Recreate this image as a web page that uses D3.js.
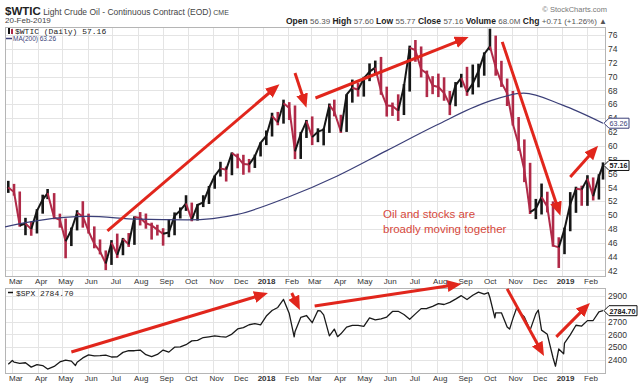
<!DOCTYPE html>
<html>
<head>
<meta charset="utf-8">
<script src="https://cdn.jsdelivr.net/npm/d3@7"></script>
<style>
    body { margin: 0; background: #fff; }
    svg { display: block; font-family: "Liberation Sans", Arial, sans-serif; }
</style>
</head>
<body>
<svg></svg>
<script>

// weekly closes (Friday or last trading day of the week)
const weekDates = [
    "2017-02-24", "2017-03-03", "2017-03-10", "2017-03-17", "2017-03-24", "2017-03-31",
    "2017-04-07", "2017-04-13", "2017-04-21", "2017-04-28",
    "2017-05-05", "2017-05-12", "2017-05-19", "2017-05-26",
    "2017-06-02", "2017-06-09", "2017-06-16", "2017-06-23", "2017-06-30",
    "2017-07-07", "2017-07-14", "2017-07-21", "2017-07-28",
    "2017-08-04", "2017-08-11", "2017-08-18", "2017-08-25",
    "2017-09-01", "2017-09-08", "2017-09-15", "2017-09-22", "2017-09-29",
    "2017-10-06", "2017-10-13", "2017-10-20", "2017-10-27",
    "2017-11-03", "2017-11-10", "2017-11-17", "2017-11-24",
    "2017-12-01", "2017-12-08", "2017-12-15", "2017-12-22", "2017-12-29",
    "2018-01-05", "2018-01-12", "2018-01-19", "2018-01-26",
    "2018-02-02", "2018-02-09", "2018-02-16", "2018-02-23",
    "2018-03-02", "2018-03-09", "2018-03-16", "2018-03-23", "2018-03-29",
    "2018-04-06", "2018-04-13", "2018-04-20", "2018-04-27",
    "2018-05-04", "2018-05-11", "2018-05-18", "2018-05-25",
    "2018-06-01", "2018-06-08", "2018-06-15", "2018-06-22", "2018-06-29",
    "2018-07-06", "2018-07-13", "2018-07-20", "2018-07-27",
    "2018-08-03", "2018-08-10", "2018-08-17", "2018-08-24", "2018-08-31",
    "2018-09-07", "2018-09-14", "2018-09-21", "2018-09-28",
    "2018-10-05", "2018-10-12", "2018-10-19", "2018-10-26",
    "2018-11-02", "2018-11-09", "2018-11-16", "2018-11-23", "2018-11-30",
    "2018-12-07", "2018-12-14", "2018-12-21", "2018-12-28",
    "2019-01-04", "2019-01-11", "2019-01-18", "2019-01-25",
    "2019-02-01", "2019-02-08", "2019-02-15", "2019-02-20"
]

const oilClose = [
    53.99, 53.33, 48.49, 48.78, 47.97, 50.60,
    52.24, 53.18, 49.62, 49.33,
    46.22, 47.84, 50.33, 49.80,
    47.66, 45.83, 44.74, 43.01, 46.04,
    44.23, 46.54, 45.77, 49.71,
    49.58, 48.82, 48.51, 47.87,
    47.29, 47.48, 49.89, 50.66, 51.67,
    49.29, 51.45, 51.84, 53.90,
    55.64, 56.74, 56.55, 58.95,
    58.36, 57.36, 57.30, 58.47, 60.42,
    61.44, 64.30, 63.37, 66.14,
    65.45, 59.20, 61.68, 63.55,
    61.25, 62.04, 62.34, 65.88, 64.94,
    62.06, 67.39, 68.38, 68.10,
    69.72, 70.70, 71.28, 67.88,
    65.81, 65.74, 65.06, 68.58, 74.15,
    73.80, 71.01, 70.46, 68.69,
    68.49, 67.63, 65.91, 68.72, 69.80,
    67.75, 68.99, 70.78, 73.25,
    74.34, 71.34, 69.12, 67.59,
    63.14, 60.19, 56.46, 50.42, 50.93,
    52.61, 51.20, 45.59, 45.33,
    47.96, 51.59, 53.80, 53.69,
    55.26, 52.72, 55.59, 57.16
]

const oilHigh = [
    54.94, 54.50, 53.40, 49.60, 49.05, 50.85,
    52.94, 53.76, 53.17, 50.20,
    49.50, 48.20, 50.70, 52.00,
    50.20, 48.36, 46.48, 44.89, 46.38,
    47.32, 46.70, 47.40, 49.81,
    50.43, 50.22, 48.90, 48.60,
    48.10, 49.42, 50.38, 51.10, 52.86,
    51.80, 51.60, 52.86, 54.20,
    55.70, 57.69, 57.00, 59.05,
    58.87, 58.70, 58.10, 58.72, 60.51,
    62.21, 64.77, 64.89, 66.66,
    66.30, 65.82, 62.00, 63.73,
    64.24, 62.52, 62.50, 66.10, 66.66,
    64.48, 67.45, 69.56, 69.12,
    69.97, 71.89, 72.30, 72.83,
    68.54, 66.24, 67.43, 68.90, 74.46,
    75.27, 74.34, 70.86, 70.05,
    70.42, 69.89, 67.91, 69.20, 70.39,
    71.40, 71.73, 71.85, 73.49,
    76.90, 75.91, 72.27, 69.71,
    67.92, 64.15, 60.92, 57.54, 52.33,
    54.55, 53.37, 51.97, 46.79,
    48.19, 53.31, 54.09, 54.24,
    55.75, 55.43, 55.89, 57.60
]

const oilLow = [
    53.20, 52.80, 48.31, 47.09, 47.01, 47.34,
    50.20, 52.30, 49.40, 48.18,
    43.76, 45.52, 47.78, 48.18,
    47.33, 45.20, 44.32, 42.05, 42.80,
    43.79, 44.20, 45.40, 45.70,
    48.50, 48.03, 46.46, 47.04,
    45.58, 46.80, 47.08, 49.50, 50.60,
    49.10, 49.20, 51.15, 51.60,
    53.80, 55.56, 54.84, 55.75,
    56.75, 55.82, 56.14, 56.80, 58.46,
    60.10, 61.34, 62.96, 63.20,
    63.73, 58.07, 58.10, 61.13,
    60.10, 60.52, 60.06, 61.86, 64.25,
    61.86, 62.00, 66.23, 67.10,
    67.10, 69.33, 70.36, 67.36,
    64.22, 64.31, 63.59, 64.44, 67.83,
    72.13, 69.87, 67.03, 67.45,
    67.03, 66.50, 64.43, 65.71, 68.43,
    67.21, 67.41, 68.44, 70.12,
    73.79, 70.12, 68.50, 65.74,
    62.93, 59.26, 54.75, 50.15, 49.41,
    50.08, 50.38, 45.43, 42.36,
    44.35, 47.66, 50.32, 51.34,
    51.33, 52.11, 52.24, 55.12
]

const spxClose = [
    2367, 2383, 2373, 2378, 2344, 2363,
    2356, 2329, 2349, 2384,
    2399, 2391, 2382, 2416,
    2439, 2432, 2433, 2438, 2423,
    2425, 2459, 2473, 2472,
    2477, 2441, 2426, 2443,
    2477, 2461, 2500, 2502, 2519,
    2549, 2553, 2575, 2581,
    2588, 2582, 2579, 2602,
    2642, 2652, 2675, 2683, 2674,
    2743, 2786, 2810, 2873,
    2762, 2620, 2732, 2747,
    2691, 2786, 2752, 2588, 2641,
    2604, 2656, 2670, 2670,
    2663, 2728, 2713, 2721,
    2735, 2779, 2780, 2755, 2718,
    2760, 2801, 2802, 2819,
    2840, 2833, 2850, 2875, 2902,
    2872, 2905, 2930, 2914,
    2886, 2767, 2768, 2658,
    2723, 2781, 2736, 2633, 2760,
    2633, 2600, 2417, 2486,
    2532, 2596, 2671, 2665,
    2707, 2708, 2776, 2785
]

// mid-week swing closes of the S&P 500
const spxSwingDates = [
    "2017-03-01", "2017-05-17", "2018-02-08", "2018-03-12", "2018-04-02",
    "2018-10-03", "2018-10-11", "2018-10-29", "2018-11-07", "2018-12-03",
    "2018-12-24", "2019-01-03"
]
const spxSwingValues = [
    2396, 2357, 2581, 2783, 2582,
    2925, 2729, 2641, 2814, 2790,
    2351, 2448
]

// 200-day moving average, read at month marks
const maDates = [
    "2017-02-20", "2017-04-01", "2017-06-01", "2017-08-01", "2017-10-01", "2017-12-01",
    "2018-02-01", "2018-04-01", "2018-06-01", "2018-08-01", "2018-10-01", "2018-11-15",
    "2019-01-01", "2019-02-20"
]
const maValues = [
    48.3, 49.2, 49.8, 49.4, 49.3, 50.1,
    52.6, 55.6, 59.3, 63.0, 66.3, 67.6,
    65.9, 63.26
]

const oilTicks = [42, 44, 46, 48, 50, 52, 54, 56, 58, 60, 62, 64, 66, 68, 70, 72, 74, 76]
const spxTicks = [2400, 2500, 2600, 2700, 2800, 2900]

// annotation arrows: [date, value] start and end
const oilArrows = [
    [["2017-06-25", 47.7], ["2018-01-21", 68.9]],
    [["2018-02-09", 70.5], ["2018-02-23", 65.5]],
    [["2018-03-06", 66.9], ["2018-09-09", 75.7]],
    [["2018-10-20", 75.0], ["2018-12-30", 49.9]],
    [["2019-01-11", 55.5], ["2019-02-14", 60.0]]
]
const spxArrows = [
    [["2017-05-12", 2462], ["2018-01-07", 2923]],
    [["2018-02-05", 2923], ["2018-02-15", 2791]],
    [["2018-03-05", 2822], ["2018-08-31", 2994]],
    [["2018-10-26", 2955], ["2018-12-10", 2431]],
    [["2018-12-25", 2580], ["2019-02-04", 2845]]
]

const parseDate = d3.timeParse("%Y-%m-%d")

const left = 5
const right = 605
const oilTop = 27
const oilBottom = 276
const spxTop = 288
const spxBottom = 373

const red = "#e1261c"
const upColor = "#161616"
const downColor = "#b02a48"
const maColor = "#3b3f78"

const svg = d3.select("svg")
    .attr("width", 640)
    .attr("height", 389)

const x = d3.scaleTime()
    .domain([parseDate("2017-02-20"), parseDate("2019-02-20")])
    .range([5, 603])

const yOil = d3.scaleLinear()
    .domain([41.2, 77.15])
    .range([oilBottom, oilTop])

const ySpx = d3.scaleLinear()
    .domain([2298, 2962])
    .range([spxBottom, spxTop])

// last values get a boxed tag on the axis; a label fully under a tag is left out
const oilTags = [63.26, 57.16]
const spxTags = [2784.70]

const defs = svg.append("defs")

defs.append("marker")
    .attr("id", "head")
    .attr("markerUnits", "userSpaceOnUse")
    .attr("viewBox", "0 0 14 12")
    .attr("markerWidth", 14)
    .attr("markerHeight", 12)
    .attr("refX", 5)
    .attr("refY", 6)
    .attr("orient", "auto")
    .append("path")
    .attr("d", "M0,0 L14,6 L0,12 Z")
    .attr("fill", red)

defs.append("clipPath").attr("id", "clipOil")
    .append("rect").attr("x", left).attr("y", oilTop).attr("width", right - left).attr("height", oilBottom - oilTop)
defs.append("clipPath").attr("id", "clipSpx")
    .append("rect").attr("x", left).attr("y", spxTop).attr("width", right - left).attr("height", spxBottom - spxTop)

const months = d3.timeMonth.range(d3.timeMonth.ceil(x.domain()[0]), x.domain()[1])

// panels: grid and frame
const drawPanel = function(top, bottom, yScale, ticks, tags) {
    const g = svg.append("g")

    g.selectAll("line.v")
        .data(months)
        .enter()
        .append("line")
        .attr("x1", d => Math.round(x(d)) + 0.5)
        .attr("x2", d => Math.round(x(d)) + 0.5)
        .attr("y1", top)
        .attr("y2", bottom)
        .attr("stroke", "#e4e4e4")

    g.selectAll("line.h")
        .data(ticks)
        .enter()
        .append("line")
        .attr("x1", left)
        .attr("x2", right)
        .attr("y1", d => Math.round(yScale(d)) + 0.5)
        .attr("y2", d => Math.round(yScale(d)) + 0.5)
        .attr("stroke", "#e4e4e4")

    g.append("rect")
        .attr("x", left + 0.5)
        .attr("y", top + 0.5)
        .attr("width", right - left)
        .attr("height", bottom - top)
        .attr("fill", "none")
        .attr("stroke", "#b5b5b5")

    const shown = ticks.filter(t => tags.every(v => Math.abs(yScale(t) - yScale(v)) > 3))

    const axis = d3.axisRight(yScale)
        .tickValues(shown)
        .tickFormat(d3.format("d"))
        .tickSize(0)
        .tickPadding(3)

    svg.append("g")
        .attr("transform", `translate(${right}, 0)`)
        .call(axis)
        .call(a => a.select(".domain").remove())
        .selectAll("text")
        .attr("font-family", "Liberation Sans, Arial, sans-serif")
        .attr("font-size", 8.5)
        .attr("fill", "#333")
}

drawPanel(oilTop, oilBottom, yOil, oilTicks, oilTags)
drawPanel(spxTop, spxBottom, ySpx, spxTicks, spxTags)

// month labels under each panel
const monthFormat = function(d) {
    return d.getMonth() === 0 ? d3.timeFormat("%Y")(d) : d3.timeFormat("%b")(d)
}

const drawMonths = function(yPos) {
    svg.append("g")
        .attr("transform", `translate(0, ${yPos})`)
        .call(d3.axisBottom(x).tickValues(months).tickFormat(monthFormat).tickSize(0).tickPadding(0))
        .call(a => a.select(".domain").remove())
        .selectAll("text")
        .attr("dx", 3)
        .attr("font-family", "Liberation Sans, Arial, sans-serif")
        .attr("font-size", 8)
        .attr("fill", "#333")
        .attr("font-weight", d => d.getMonth() === 0 ? "bold" : "normal")
}

drawMonths(278)
drawMonths(375)

// oil weekly bars
const oil = weekDates.map((d, i) => ({
    date: parseDate(d),
    close: oilClose[i],
    high: oilHigh[i],
    low: oilLow[i],
    up: i === 0 ? true : oilClose[i] >= oilClose[i - 1]
}))

const oilGroup = svg.append("g").attr("clip-path", "url(#clipOil)")

oilGroup.selectAll("line.stick")
    .data(oil)
    .enter()
    .append("line")
    .attr("x1", d => x(d.date))
    .attr("x2", d => x(d.date))
    .attr("y1", d => yOil(d.low))
    .attr("y2", d => yOil(d.high))
    .attr("stroke", d => d.up ? upColor : downColor)
    .attr("stroke-width", 2.6)

oilGroup.selectAll("line.seg")
    .data(oil.slice(1))
    .enter()
    .append("line")
    .attr("x1", (d, i) => x(oil[i].date))
    .attr("y1", (d, i) => yOil(oil[i].close))
    .attr("x2", d => x(d.date))
    .attr("y2", d => yOil(d.close))
    .attr("stroke", d => d.up ? upColor : downColor)
    .attr("stroke-width", 2)

// moving average
const maLine = d3.line()
    .x((d, i) => x(parseDate(maDates[i])))
    .y(d => yOil(d))
    .curve(d3.curveMonotoneX)

oilGroup.append("path")
    .attr("d", maLine(maValues))
    .attr("fill", "none")
    .attr("stroke", maColor)
    .attr("stroke-width", 1.2)

// S&P 500 line
const spx = weekDates.map((d, i) => ({ date: parseDate(d), value: spxClose[i] }))
    .concat(spxSwingDates.map((d, i) => ({ date: parseDate(d), value: spxSwingValues[i] })))
    .sort((a, b) => a.date - b.date)

const spxLine = d3.line()
    .x(d => x(d.date))
    .y(d => ySpx(d.value))

svg.append("g").attr("clip-path", "url(#clipSpx)")
    .append("path")
    .attr("d", spxLine(spx))
    .attr("fill", "none")
    .attr("stroke", "#1a1a1a")
    .attr("stroke-width", 1.3)
    .attr("stroke-linejoin", "round")

// arrows
const drawArrows = function(list, yScale) {
    list.forEach(function(a) {
        const x1 = x(parseDate(a[0][0]))
        const y1 = yScale(a[0][1])
        const x2 = x(parseDate(a[1][0]))
        const y2 = yScale(a[1][1])
        const len = Math.hypot(x2 - x1, y2 - y1)
        const cut = 9 / len
        svg.append("line")
            .attr("x1", x1)
            .attr("y1", y1)
            .attr("x2", x2 - (x2 - x1) * cut)
            .attr("y2", y2 - (y2 - y1) * cut)
            .attr("stroke", red)
            .attr("stroke-width", 3)
            .attr("marker-end", "url(#head)")
    })
}

drawArrows(oilArrows, yOil)
drawArrows(spxArrows, ySpx)

// annotation
const note = svg.append("text")
    .attr("font-size", 11.5)
    .attr("fill", "#d6483c")
note.append("tspan").attr("x", 383).attr("y", 218).text("Oil and stocks are")
note.append("tspan").attr("x", 383).attr("y", 233).text("broadly moving together")

// price tags on the right axis
const drawTag = function(yPos, label, color, bold, width) {
    const g = svg.append("g").attr("transform", `translate(${right}, ${yPos})`)
    g.append("path")
        .attr("d", `M-1,0 L4,-5 L${width},-5 L${width},5 L4,5 Z`)
        .attr("fill", "#fff")
        .attr("stroke", color)
        .attr("stroke-width", 1)
    g.append("text")
        .attr("x", 4.5)
        .attr("y", 3)
        .attr("font-size", 8)
        .attr("font-weight", bold ? "bold" : "normal")
        .attr("textLength", width - 6)
        .attr("lengthAdjust", "spacingAndGlyphs")
        .attr("fill", color)
        .text(label)
}

drawTag(yOil(oilTags[0]), "63.26", maColor, false, 24)
drawTag(yOil(oilTags[1]), "57.16", "#111", true, 24)
drawTag(ySpx(spxTags[0]), "2784.70", "#111", true, 32)

// legends
svg.append("rect").attr("x", 8).attr("y", 28).attr("width", 2).attr("height", 6).attr("fill", upColor)
svg.append("rect").attr("x", 11).attr("y", 29).attr("width", 2).attr("height", 5).attr("fill", downColor)
svg.append("text")
    .attr("x", 15)
    .attr("y", 34)
    .attr("font-family", "Liberation Mono, DejaVu Sans Mono, monospace")
    .attr("font-size", 8)
    .attr("fill", "#222")
    .text("$WTIC (Daily) 57.16")

svg.append("line").attr("x1", 6).attr("x2", 12).attr("y1", 38.5).attr("y2", 38.5)
    .attr("stroke", maColor).attr("stroke-width", 1.5)
svg.append("text")
    .attr("x", 13)
    .attr("y", 41)
    .attr("font-size", 6.5)
    .attr("fill", maColor)
    .text("MA(200) 63.26")

svg.append("line").attr("x1", 8).attr("x2", 13).attr("y1", 292.5).attr("y2", 292.5)
    .attr("stroke", "#111").attr("stroke-width", 1.5)
svg.append("text")
    .attr("x", 16)
    .attr("y", 295.5)
    .attr("font-family", "Liberation Mono, DejaVu Sans Mono, monospace")
    .attr("font-size", 8)
    .attr("fill", "#222")
    .text("$SPX 2784.70")

// header
const title = svg.append("text")
    .attr("x", 5)
    .attr("y", 15)
    .attr("fill", "#222")
title.append("tspan")
    .attr("font-size", 11.5)
    .attr("font-weight", "bold")
    .attr("font-family", "Liberation Sans Narrow, Liberation Sans, Arial, sans-serif")
    .text("$WTIC")
title.append("tspan")
    .attr("font-size", 8.5)
    .attr("fill", "#444")
    .text(" Light Crude Oil - Continuous Contract (EOD)")
title.append("tspan")
    .attr("font-size", 7)
    .attr("fill", "#444")
    .text(" CME")

svg.append("text")
    .attr("x", 5)
    .attr("y", 23)
    .attr("font-size", 8)
    .attr("fill", "#444")
    .text("20-Feb-2019")

svg.append("text")
    .attr("x", 607)
    .attr("y", 12)
    .attr("text-anchor", "end")
    .attr("font-size", 7.5)
    .attr("fill", "#777")
    .text("© StockCharts.com")

const quoteParts = [
    ["Open", "56.39"], ["High", "57.60"], ["Low", "55.77"], ["Close", "57.16"],
    ["Volume", "68.0M"], ["Chg", "+0.71 (+1.26%) \u25B2"]
]

const quote = svg.append("text")
    .attr("x", 607)
    .attr("y", 23.5)
    .attr("text-anchor", "end")
quoteParts.forEach(function(p, i) {
    quote.append("tspan")
        .attr("font-size", 8.5)
        .attr("font-weight", "bold")
        .attr("fill", "#222")
        .text((i === 0 ? "" : " ") + p[0] + " ")
    quote.append("tspan")
        .attr("font-size", 8)
        .attr("fill", "#555")
        .text(p[1])
})

</script>
</body>
</html>
